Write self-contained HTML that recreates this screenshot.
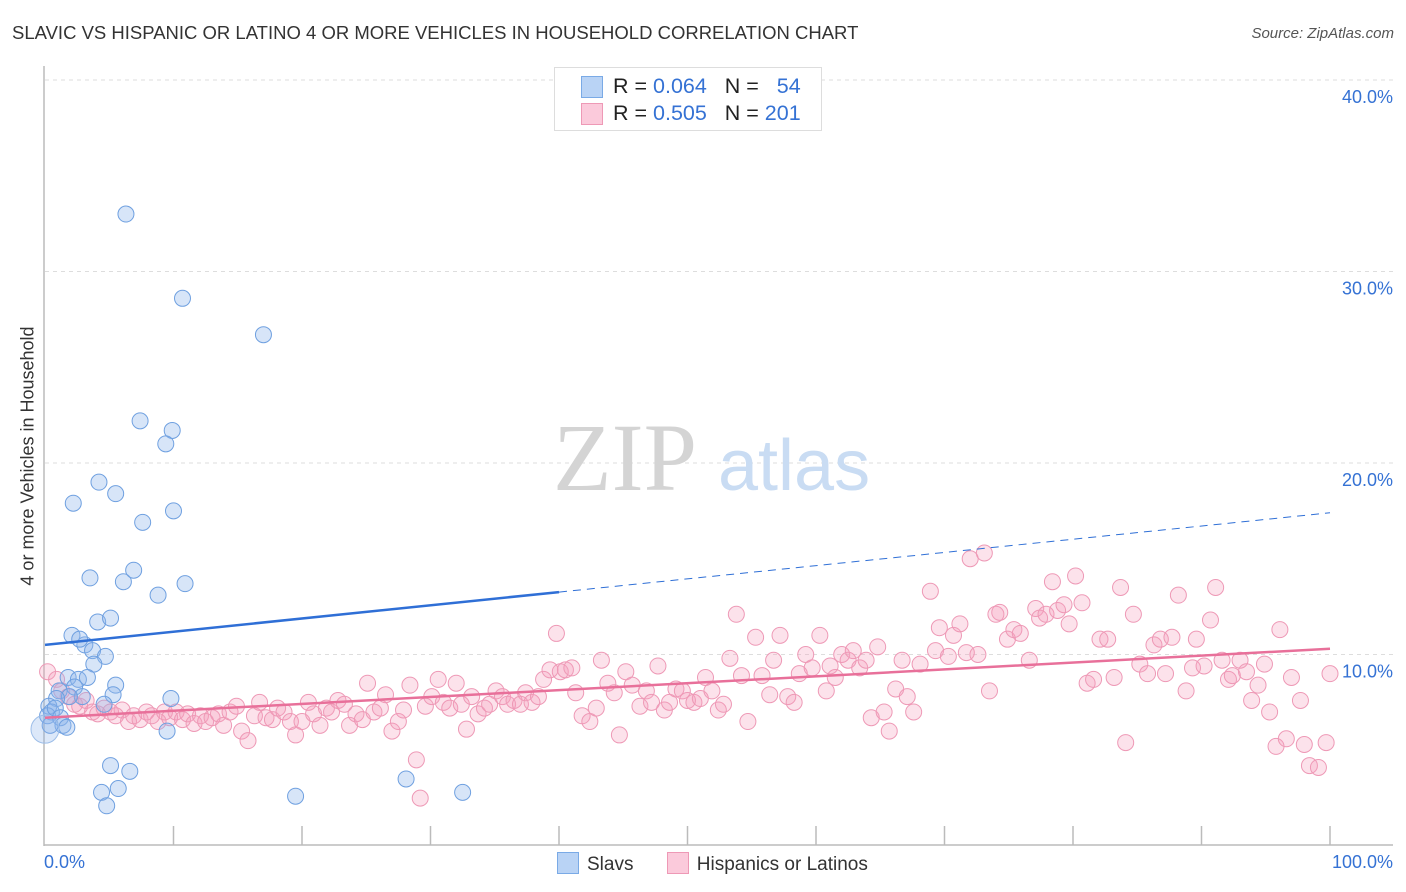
<!DOCTYPE html>
<html><head><meta charset="utf-8"><style>
body{margin:0;background:#fff;font-family:"Liberation Sans",sans-serif;}
#wrap{position:relative;width:1406px;height:892px;overflow:hidden;}
.t{position:absolute;white-space:nowrap;}
</style></head><body>
<div id="wrap">
<div class="t" style="left:12px;top:22px;font-size:18.5px;color:#333;">SLAVIC VS HISPANIC OR LATINO 4 OR MORE VEHICLES IN HOUSEHOLD CORRELATION CHART</div>
<div class="t" style="right:12px;top:25px;font-size:15px;color:#555;font-style:italic;">Source: ZipAtlas.com</div>
<svg id="svg" width="1406" height="892" style="position:absolute;left:0;top:0"></svg>
<div class="t" style="left:554px;top:67px;width:266px;height:62px;border:1px solid #ddd;background:#fff;font-size:21.5px;color:#222;">
 <div style="position:absolute;left:26px;top:8px;width:20px;height:20px;background:#b9d3f5;border:1px solid #7aaae6;"></div>
 <div style="position:absolute;left:58px;top:6px;">R = <span style="color:#3572d4">0.064</span>&nbsp;&nbsp;&nbsp;N = &nbsp;&nbsp;<span style="color:#3572d4">54</span></div>
 <div style="position:absolute;left:26px;top:35px;width:20px;height:20px;background:#fbcadb;border:1px solid #ee99b6;"></div>
 <div style="position:absolute;left:58px;top:33px;">R = <span style="color:#3572d4">0.505</span>&nbsp;&nbsp;&nbsp;N = <span style="color:#3572d4">201</span></div>
</div>
<div class="t" style="left:28px;top:456px;font-size:18px;color:#333;transform:translate(-50%,-50%) rotate(-90deg);">4 or more Vehicles in Household</div>
<div class="t" style="left:44px;top:852px;font-size:18px;color:#3572d4;">0.0%</div>
<div class="t" style="right:13px;top:852px;font-size:18px;color:#3572d4;">100.0%</div>
<div class="t" style="left:557px;top:852px;font-size:19px;color:#333;">
 <span style="display:inline-block;width:20px;height:20px;background:#b9d3f5;border:1px solid #7aaae6;vertical-align:-4px;margin-right:8px;"></span><span>Slavs</span>
 <span style="display:inline-block;width:20px;height:20px;background:#fbcadb;border:1px solid #ee99b6;vertical-align:-4px;margin:0 8px 0 28px;"></span><span>Hispanics or Latinos</span>
</div>
</div>
<script>
const yTicks=[10,20,30,40];
const yTickLabels=["10.0%","20.0%","30.0%","40.0%"];
const xTicks=[0,10,20,30,40,50,60,70,80,90,100];
const slavX=[6.3,10.7,17.0,7.4,9.9,9.4,4.2,2.2,5.5,10.0,7.6,3.5,6.1,6.9,10.9,8.8,4.1,5.1,2.1,3.1,2.7,3.7,4.7,3.8,1.8,2.6,3.3,1.1,2.3,5.5,5.3,9.8,2.9,1.9,4.6,0.9,0.3,0.5,0.2,0.8,1.2,1.4,1.7,9.5,5.1,6.6,4.4,5.7,4.8,19.5,28.1,32.5,0.4,0.0];
const slavY=[33.0,28.6,26.7,22.2,21.7,21.0,19.0,17.9,18.4,17.5,16.9,14.0,13.8,14.4,13.7,13.1,11.7,11.9,11.0,10.5,10.8,10.2,9.9,9.5,8.8,8.7,8.8,8.1,8.3,8.4,7.9,7.7,7.8,7.8,7.4,7.7,7.3,7.0,6.8,7.2,6.7,6.3,6.2,6.0,4.2,3.9,2.8,3.0,2.1,2.6,3.5,2.8,6.3,6.1];
const hispX=[0.2,0.9,1.3,1.8,2.3,2.7,3.2,3.7,4.1,4.6,5.1,5.5,6.0,6.5,6.9,7.4,7.9,8.3,8.8,9.3,9.7,10.2,10.7,11.1,11.6,12.1,12.5,13.0,13.5,13.9,14.4,14.9,15.3,15.8,16.3,16.7,17.2,17.7,18.1,18.6,19.1,19.5,20.0,20.5,20.9,21.4,21.9,22.3,22.8,23.3,23.7,24.2,24.7,25.1,25.6,26.1,26.5,27.0,27.5,27.9,28.4,28.9,29.2,29.6,30.1,30.6,31.0,31.5,32.0,32.4,32.8,33.2,33.7,34.2,34.6,35.1,35.6,36.0,36.5,37.0,37.4,37.9,38.4,38.8,39.3,39.8,40.1,40.5,41.0,41.3,41.8,42.4,42.9,43.3,43.8,44.3,44.7,45.2,45.7,46.3,46.8,47.2,47.7,48.2,48.6,49.1,49.6,50.0,50.5,51.0,51.4,51.9,52.4,52.8,53.3,53.8,54.2,54.7,55.3,55.8,56.4,56.7,57.2,57.8,58.3,58.7,59.2,59.7,60.3,60.8,61.1,61.5,62.0,62.5,62.9,63.4,63.9,64.3,64.8,65.3,65.7,66.2,66.7,67.1,67.6,68.1,68.9,69.3,69.6,70.3,70.7,71.2,71.7,72.0,72.6,73.1,73.5,74.0,74.3,74.9,75.4,75.9,76.6,77.1,77.4,77.9,78.4,78.8,79.3,79.7,80.2,80.7,81.1,81.6,82.1,82.7,83.2,83.7,84.1,84.7,85.2,85.8,86.3,86.8,87.2,87.7,88.2,88.8,89.3,89.6,90.2,90.7,91.1,91.6,92.1,92.4,93.0,93.5,93.9,94.4,94.9,95.3,95.8,96.1,96.6,97.0,97.7,98.0,98.4,99.1,99.7,100.0];
const hispY=[9.1,8.7,8.1,7.8,7.4,7.3,7.6,7.0,6.9,7.2,7.0,6.8,7.1,6.5,6.8,6.6,7.0,6.8,6.5,7.0,6.7,7.0,6.6,6.9,6.4,6.8,6.5,6.7,6.9,6.3,7.0,7.3,6.0,5.5,6.8,7.5,6.7,6.6,7.2,7.0,6.5,5.8,6.5,7.5,6.9,6.3,7.2,7.0,7.6,7.4,6.3,6.9,6.6,8.5,7.0,7.2,7.9,6.0,6.5,7.1,8.4,4.5,2.5,7.3,7.8,8.7,7.5,7.2,8.5,7.4,6.1,7.8,6.9,7.2,7.4,8.1,7.8,7.4,7.6,7.4,8.0,7.5,7.8,8.7,9.2,11.1,9.1,9.2,9.3,8.0,6.8,6.5,7.2,9.7,8.5,8.0,5.8,9.1,8.4,7.3,8.1,7.5,9.4,7.1,7.5,8.2,8.1,7.6,7.5,7.7,8.8,8.1,7.1,7.4,9.8,12.1,8.9,6.5,10.9,8.9,7.9,9.7,11.0,7.8,7.5,9.0,10.0,9.3,11.0,8.1,9.4,8.8,10.0,9.7,10.2,9.3,9.7,6.7,10.4,7.0,6.0,8.2,9.7,7.8,7.0,9.5,13.3,10.2,11.4,9.9,11.0,11.6,10.1,15.0,10.0,15.3,8.1,12.1,12.2,10.8,11.3,11.1,9.7,12.4,11.9,12.1,13.8,12.3,12.6,11.6,14.1,12.7,8.5,8.7,10.8,10.8,8.8,13.5,5.4,12.1,9.5,9.0,10.5,10.8,9.0,10.9,13.1,8.1,9.3,10.8,9.4,11.8,13.5,9.7,8.7,8.9,9.7,9.1,7.6,8.4,9.5,7.0,5.2,11.3,5.6,8.8,7.6,5.3,4.2,4.1,5.4,9.0];
const slavTrend=[10.5,17.4];
const hispTrend=[6.7,10.3];
const svg=document.getElementById('svg');
const NS='http://www.w3.org/2000/svg';
const X0=45,X1=1330,Y0=846,PY=19.15;
const xs=v=>X0+(X1-X0)*v/100, ys=v=>Y0-v*PY;
function mk(tag,attrs){const e=document.createElementNS(NS,tag);for(const k in attrs)e.setAttribute(k,attrs[k]);svg.appendChild(e);return e;}
yTicks.forEach((t,i)=>{
 const g=mk('line',{x1:45,x2:1393,y1:ys(t),y2:ys(t),stroke:'#ddd','stroke-dasharray':'4,4'});
 
 
 const tx=mk('text',{x:1393,y:ys(t)+23,'text-anchor':'end','font-size':18,fill:'#3572d4','font-family':'Liberation Sans, sans-serif'});
 tx.textContent=yTickLabels[i];
 
 
});
const ax=mk('line',{x1:44,x2:44,y1:66,y2:846,stroke:'#bbb','stroke-width':1.5});


const bx=mk('line',{x1:44,x2:1393,y1:845,y2:845,stroke:'#bbb','stroke-width':1.5});


xTicks.forEach(t=>{if(t===0)return;
 const l=mk('line',{x1:xs(t),x2:xs(t),y1:826,y2:845,stroke:'#bbb','stroke-width':1.5});
 
 
});
const w1=mk('text',{x:553,y:490,'font-size':96,fill:'#d4d4d4','font-family':'Liberation Serif, serif'});
w1.textContent='ZIP';


const w2=mk('text',{x:718,y:490,'font-size':72,fill:'#c9dcf3','font-family':'Liberation Sans, sans-serif'});
w2.textContent='atlas';


hispX.forEach((v,i)=>{
 const c=mk('circle',{cx:xs(v),cy:ys(hispY[i]),r:8,fill:'rgba(245,160,190,0.3)',stroke:'#ee99b6','stroke-width':1});
 
 
});
slavX.forEach((v,i)=>{
 const big=i===slavX.length-1;
 const c=mk('circle',{cx:xs(v),cy:ys(slavY[i]),r:big?14:8,fill:big?'rgba(140,180,235,0.3)':'rgba(140,180,235,0.35)',stroke:big?'#9cbde8':'#6fa0e0','stroke-width':1});
 
 
});
const bAt=p=>slavTrend[0]+(slavTrend[1]-slavTrend[0])*p/100;
const t1=mk('line',{x1:xs(0),y1:ys(bAt(0)),x2:xs(40),y2:ys(bAt(40)),stroke:'#2f6fd6','stroke-width':2.5});


const t2=mk('line',{x1:xs(40),y1:ys(bAt(40)),x2:xs(100),y2:ys(bAt(100)),stroke:'#2f6fd6','stroke-width':1,'stroke-dasharray':'8,6'});


const t3=mk('line',{x1:xs(0),y1:ys(hispTrend[0]),x2:xs(100),y2:ys(hispTrend[1]),stroke:'#e8709a','stroke-width':2.5});


</script>
</body></html>
